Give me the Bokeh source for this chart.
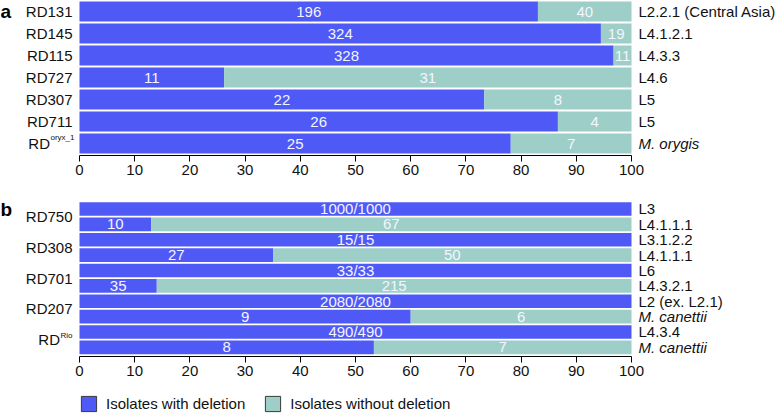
from bokeh.plotting import figure
from bokeh.models import (Range1d, FixedTicker, Legend, LegendItem, ColumnDataSource)
from bokeh.layouts import column
from bokeh.core.properties import value
from bokeh.embed import file_html
from bokeh.resources import INLINE

# ---------------- data ----------------
a_rd = ["RD131", "RD145", "RD115", "RD727", "RD307", "RD711", "RD"]
a_rd_sup = ["", "", "", "", "", "", "oryx_1"]
a_lineage = ["L2.2.1 (Central Asia)", "L4.1.2.1", "L4.3.3", "L4.6", "L5", "L5", "M. orygis"]
a_italic = [False, False, False, False, False, False, True]
a_with = [196, 324, 328, 11, 22, 26, 25]
a_without = [40, 19, 11, 31, 8, 4, 7]

b_rd = ["RD750", "RD308", "RD701", "RD207", "RD"]
b_rd_sup = ["", "", "", "", "Rio"]
b_lineage = ["L3", "L4.1.1.1", "L3.1.2.2", "L4.1.1.1", "L6", "L4.3.2.1",
             "L2 (ex. L2.1)", "M. canettii", "L4.3.4", "M. canettii"]
b_italic = [False, False, False, False, False, False, False, True, False, True]
b_with = [1000, 10, 15, 27, 33, 35, 2080, 9, 490, 8]
b_without = [0, 67, 0, 50, 0, 215, 0, 6, 0, 7]

x_ticks = [0, 10, 20, 30, 40, 50, 60, 70, 80, 90, 100]
legend_labels = ["Isolates with deletion", "Isolates without deletion"]

# ---------------- style / layout ----------------
BLUE = "#4F5AF6"
TEAL = "#9DCFC8"
FONT = "Liberation Sans"
TXT = "#111111"
W = 780
X0_PX, X100_PX = 79, 631
PPU = (X100_PX - X0_PX) / 100.0
NAN = float("nan")


def segments(with_, without):
    n = len(with_)
    rows = [n - 1 - i for i in range(n)]
    pct = [100.0 * w / (w + wo) for w, wo in zip(with_, without)]
    lab_x, lab_y, lab_t = [], [], []
    for r, p, w, wo in zip(rows, pct, with_, without):
        if wo == 0:
            lab_x.append(p / 2); lab_y.append(r); lab_t.append(f"{w}/{w + wo}")
        else:
            lab_x.append(p / 2); lab_y.append(r); lab_t.append(str(w))
            lab_x.append((p + 100) / 2); lab_y.append(r); lab_t.append(str(wo))
    return rows, pct, lab_x, lab_y, lab_t


def make_panel(with_, without, rd, rd_sup, lineage, italic, pair,
               frame_h, pitch, y_end, bar_h, letter, letter_base_px,
               sup_dx, sup_dy_px, bottom_border):
    rows, pct, lab_x, lab_y, lab_t = segments(with_, without)
    y_start = y_end - frame_h / pitch
    p = figure(frame_width=W, frame_height=frame_h,
               min_border_left=0, min_border_right=0,
               min_border_top=0, min_border_bottom=bottom_border,
               x_range=Range1d(-X0_PX / PPU, (W - X0_PX) / PPU),
               y_range=Range1d(y_start, y_end),
               y_axis_location=None,
               output_backend="svg", toolbar_location=None)
    p.outline_line_color = None
    p.grid.visible = False
    src = ColumnDataSource(dict(y=rows, pct=pct, full=[100] * len(rows)))
    p.hbar(y="y", left=0, right="pct", height=bar_h, source=src,
           fill_color=BLUE, line_color=None)
    p.hbar(y="y", left="pct", right="full", height=bar_h, source=src,
           fill_color=TEAL, line_color=None)
    p.text(x=lab_x, y=lab_y, text=lab_t, text_align="center",
           text_baseline="middle", text_font=value(FONT),
           text_font_size="15px", text_color="#F4F5FF")

    # x axis limited to 0..100
    xa = p.xaxis[0]
    xa.bounds = (0, 100)
    xa.ticker = FixedTicker(ticks=x_ticks)
    xa.minor_tick_line_color = None
    xa.major_tick_in = 0
    xa.major_tick_out = 6
    xa.axis_line_color = "#000000"
    xa.major_tick_line_color = "#000000"
    xa.major_label_text_font = FONT
    xa.major_label_text_font_size = "15px"
    xa.major_label_text_color = TXT
    xa.major_label_standoff = 3

    # left labels
    if pair == 1:
        pos = [float(r) for r in rows]
    else:
        pos = [rows[2 * k] - 0.5 for k in range(len(rd))]
    plain = [(y, t) for y, t, s in zip(pos, rd, rd_sup) if not s]
    p.text(x=[0] * len(plain), y=[y for y, _ in plain], text=[t for _, t in plain],
           x_offset=-7, text_align="right", text_baseline="middle",
           text_font=value(FONT), text_font_size="15px", text_color=TXT)
    for y, t, s in zip(pos, rd, rd_sup):
        if s:
            sw = 4.0 * len(s)
            p.text(x=[0], y=[y + sup_dy_px / pitch], text=[s], x_offset=sup_dx,
                   text_align="right", text_baseline="middle",
                   text_font=value(FONT), text_font_size="8px", text_color=TXT)
            p.text(x=[0], y=[y], text=[t], x_offset=sup_dx - sw - 0.5,
                   text_align="right", text_baseline="middle",
                   text_font=value(FONT), text_font_size="15px", text_color=TXT)

    # right labels
    for style in ("normal", "italic"):
        sel = [(r, l) for r, l, it in zip(rows, lineage, italic)
               if (it and style == "italic") or (not it and style == "normal")]
        if sel:
            p.text(x=[100] * len(sel), y=[r for r, _ in sel], text=[l for _, l in sel],
                   x_offset=7, text_align="left", text_baseline="middle",
                   text_font=value(FONT), text_font_size="15px",
                   text_font_style=style, text_color=TXT)

    # panel letter
    p.text(x=[-X0_PX / PPU], y=[y_end - letter_base_px / pitch], text=[letter],
           text_align="left", text_baseline="alphabetic",
           text_font=value(FONT), text_font_size="19px",
           text_font_style="bold", text_color="#000000")
    return p


# panel a: frame 0..155 px, row pitch 22 px
p1 = make_panel(a_with, a_without, a_rd, a_rd_sup, a_lineage, a_italic, 1,
                155, 22.0, 6.5, 0.91, "a", 10.5, -5, 6, 25)
# panel b: frame starts at ~180 px, row pitch 15.37 px
p2 = make_panel(b_with, b_without, b_rd, b_rd_sup, b_lineage, b_italic, 2,
                176, 15.37, 10.854, 0.885, "b", 29.0, -7, 4.5, 25)

# legend figure (proxy renderers hold no visible data)
p3 = figure(frame_width=W, frame_height=33, min_border=0,
            x_axis_location=None, y_axis_location=None,
            x_range=Range1d(0, 1), y_range=Range1d(0, 1),
            output_backend="svg", toolbar_location=None)
p3.outline_line_color = None
p3.grid.visible = False
r_with = p3.hbar(y=[NAN], left=[NAN], right=[NAN], height=0.9, fill_color=BLUE,
                 line_color="#3A3A3A", line_width=1)
r_without = p3.hbar(y=[NAN], left=[NAN], right=[NAN], height=0.9, fill_color=TEAL,
                    line_color="#3A3A3A", line_width=1)
legend = Legend(items=[LegendItem(label=legend_labels[0], renderers=[r_with]),
                       LegendItem(label=legend_labels[1], renderers=[r_without])],
                orientation="horizontal", location=(X0_PX, 1),
                glyph_width=19, glyph_height=19, label_standoff=8, spacing=18,
                padding=0, margin=0, border_line_color=None,
                background_fill_alpha=0, label_text_font=FONT,
                label_text_font_size="15px", label_text_color=TXT,
                label_height=20, label_text_baseline="middle")
p3.add_layout(legend, "center")

layout = column(p1, p2, p3, spacing=0)
open("out.html", "w").write(file_html(layout, INLINE))
